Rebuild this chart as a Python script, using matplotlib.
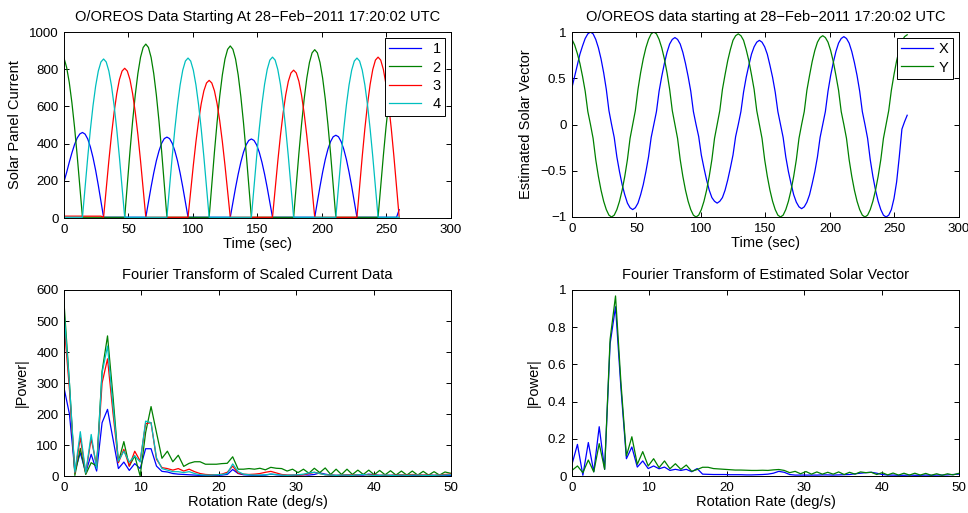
#!/usr/local/bin/python3

import numpy as np
import matplotlib
matplotlib.use('Agg')
import matplotlib.pyplot as plt
from matplotlib.ticker import FormatStrFormatter, FuncFormatter

# Sample spacing of the telemetry (s) and FFT bin spacing (deg/s)
dt = 2.046
bin_width = 360 / 512

# Solar panel currents, one value per sample
panel_1 = [195, 245, 300, 350, 395, 430, 452, 460,
           451, 425, 382, 325, 256, 176, 90, 4,
           4, 4, 4, 4, 4, 4, 4, 4, 4, 4, 4, 4, 4, 4, 4,
           4, 85, 167, 242, 308, 361, 402, 427, 435,
           427, 402, 361, 308, 242, 167, 85, 4,
           4, 4, 4, 4, 4, 4, 4, 4, 4, 4, 4, 4, 4, 4, 4,
           4, 83, 163, 236, 300, 353, 393, 417, 425,
           417, 393, 353, 300, 236, 163, 83, 4,
           4, 4, 4, 4, 4, 4, 4, 4, 4, 4, 4, 4, 4, 4, 4,
           4, 87, 170, 247, 315, 370, 411, 437, 445,
           437, 411, 370, 315, 247, 170, 87, 4,
           4, 4, 4, 4, 4, 4, 4, 4, 4, 4, 4, 4, 4, 4, 4,
           45]
panel_2 = [860, 810, 729, 620, 488, 336, 171, 4,
           4, 4, 4, 4, 4, 4, 4, 4, 4, 4, 4, 4, 4, 4, 4,
           4, 182, 358, 520, 661, 777, 864, 917, 935,
           917, 864, 777, 661, 520, 358, 182, 4,
           4, 4, 4, 4, 4, 4, 4, 4, 4, 4, 4, 4, 4, 4, 4,
           4, 180, 354, 514, 654, 769, 855, 907, 925,
           907, 855, 769, 654, 514, 354, 180, 4,
           4, 4, 4, 4, 4, 4, 4, 4, 4, 4, 4, 4, 4, 4, 4,
           4, 176, 347, 503, 640, 752, 836, 888, 905,
           888, 836, 752, 640, 503, 347, 176, 4,
           4, 4, 4, 4, 4, 4, 4, 4, 4, 4, 4, 4, 4, 4, 4,
           4, 171, 335, 487, 619, 727, 809, 858, 870]
panel_3 = [10, 10, 10, 10, 10, 10, 10, 10, 10, 10, 10, 10, 10, 10, 10,
           4, 157, 308, 448, 569, 669, 744, 790, 805,
           790, 744, 669, 569, 448, 308, 157, 4,
           4, 4, 4, 4, 4, 4, 4, 4, 4, 4, 4, 4, 4, 4, 4,
           4, 144, 283, 411, 523, 615, 684, 726, 740,
           726, 684, 615, 523, 411, 283, 144, 4,
           4, 4, 4, 4, 4, 4, 4, 4, 4, 4, 4, 4, 4, 4, 4,
           4, 155, 304, 442, 562, 661, 735, 780, 795,
           780, 735, 661, 562, 442, 304, 155, 4,
           4, 4, 4, 4, 4, 4, 4, 4, 4, 4, 4, 4, 4, 4, 4,
           4, 169, 331, 481, 612, 719, 799, 849, 865,
           849, 799, 719, 612, 481, 331, 169, 4]
panel_4 = [4, 4, 4, 4, 4, 4, 4,
           4, 167, 327, 475, 604, 710, 790, 839, 855,
           839, 790, 710, 604, 475, 327, 167, 4,
           4, 4, 4, 4, 4, 4, 4, 4, 4, 4, 4, 4, 4, 4, 4,
           4, 168, 329, 478, 608, 715, 795, 844, 860,
           844, 795, 715, 608, 478, 329, 168, 4,
           4, 4, 4, 4, 4, 4, 4, 4, 4, 4, 4, 4, 4, 4, 4,
           4, 169, 331, 481, 612, 719, 799, 849, 865,
           849, 799, 719, 612, 481, 331, 169, 4,
           4, 4, 4, 4, 4, 4, 4, 4, 4, 4, 4, 4, 4, 4, 4,
           4, 168, 329, 478, 608, 715, 795, 844, 860,
           844, 795, 715, 608, 478, 329, 168, 4,
           4, 4, 4, 4, 4, 4, 4, 4]

# Estimated solar vector components
sun_x = [0.40, 0.52, 0.64, 0.76, 0.85, 0.93, 0.98, 1.00,
         0.98, 0.92, 0.83, 0.71, 0.56, 0.38, 0.15, 0.00,
         -0.14, -0.35, -0.51, -0.65, -0.76, -0.85, -0.90, -0.92,
         -0.90, -0.85, -0.76, -0.65, -0.51, -0.35, -0.14, 0.00,
         0.14, 0.36, 0.52, 0.66, 0.78, 0.87, 0.92, 0.94,
         0.92, 0.87, 0.78, 0.66, 0.52, 0.36, 0.14, 0.00,
         -0.13, -0.33, -0.47, -0.60, -0.71, -0.79, -0.83, -0.85,
         -0.83, -0.79, -0.71, -0.60, -0.47, -0.33, -0.13, 0.00,
         0.14, 0.35, 0.51, 0.64, 0.76, 0.84, 0.89, 0.91,
         0.89, 0.84, 0.76, 0.64, 0.51, 0.35, 0.14, 0.00,
         -0.14, -0.35, -0.51, -0.64, -0.76, -0.84, -0.89, -0.91,
         -0.89, -0.84, -0.76, -0.64, -0.51, -0.35, -0.14, 0.00,
         0.14, 0.36, 0.53, 0.67, 0.79, 0.88, 0.93, 0.95,
         0.93, 0.88, 0.79, 0.67, 0.53, 0.36, 0.14, 0.00,
         -0.15, -0.38, -0.56, -0.71, -0.83, -0.92, -0.98, -1.00,
         -0.98, -0.92, -0.80, -0.62, -0.35, -0.05, 0.03, 0.10]
sun_y = [0.92, 0.86, 0.77, 0.66, 0.52, 0.36, 0.14, 0.00,
         -0.15, -0.38, -0.56, -0.71, -0.83, -0.92, -0.98, -1.00,
         -0.98, -0.92, -0.83, -0.71, -0.56, -0.38, -0.15, 0.00,
         0.15, 0.38, 0.56, 0.71, 0.83, 0.92, 0.98, 1.00,
         0.98, 0.92, 0.83, 0.71, 0.56, 0.38, 0.15, 0.00,
         -0.15, -0.38, -0.56, -0.71, -0.83, -0.92, -0.98, -1.00,
         -0.98, -0.92, -0.83, -0.71, -0.56, -0.38, -0.15, 0.00,
         0.15, 0.38, 0.54, 0.69, 0.81, 0.91, 0.96, 0.98,
         0.96, 0.91, 0.81, 0.69, 0.54, 0.38, 0.15, 0.00,
         -0.15, -0.38, -0.56, -0.71, -0.83, -0.92, -0.98, -1.00,
         -0.98, -0.92, -0.83, -0.71, -0.56, -0.38, -0.15, 0.00,
         0.14, 0.37, 0.53, 0.68, 0.80, 0.89, 0.94, 0.96,
         0.94, 0.89, 0.80, 0.68, 0.53, 0.37, 0.14, 0.00,
         -0.15, -0.38, -0.56, -0.71, -0.83, -0.92, -0.98, -1.00,
         -0.98, -0.92, -0.83, -0.71, -0.56, -0.38, -0.15, 0.00,
         0.15, 0.37, 0.54, 0.69, 0.81, 0.90, 0.95, 0.97]

# Spectrum magnitude of each panel current
power_1 = [285, 200, 15, 75, 11, 70, 16, 172, 215, 120, 24, 45, 18, 40, 24, 88,
           88, 32, 15, 13, 8, 6, 5,
           4, 3, 2, 2, 2, 2, 3, 5, 21,
           8, 4, 3, 2, 2, 3, 6, 4, 3,
           2, 2, 3, 4, 3, 5, 10, 6, 3,
           2, 2, 3, 2, 3, 3, 6, 4, 2,
           2, 2, 3, 2, 2, 2, 2, 2, 3,
           2, 2, 2, 2, 2]
power_2 = [561, 300, 2, 89, 5, 43, 32, 338, 452, 258, 45, 111, 32, 65, 0, 140,
           224, 140, 57, 80, 46, 67, 31,
           41, 46, 46, 38, 38, 38, 40, 41, 62,
           22, 22, 24, 22, 25, 20, 28, 25, 24,
           16, 22, 11, 22, 9, 25, 11, 26, 5,
           22, 5, 22, 5, 19, 5, 19, 4, 18,
           4, 17, 3, 16, 3, 16, 3, 15, 3,
           14, 3, 13, 9, 10]
power_3 = [495, 280, 10, 124, 10, 120, 32, 300, 378, 204, 43, 86, 32, 80, 48, 169,
           172, 54, 27, 24, 19, 24, 16,
           22, 14, 8, 5, 4, 4, 6, 12, 32,
           9, 6, 5, 6, 8, 12, 15, 10, 5,
           3, 3, 3, 4, 8, 12, 8, 4, 3,
           2, 3, 4, 3, 4, 5, 4, 3, 2,
           3, 2, 3, 4, 3, 5, 4, 3, 3,
           2, 4, 5, 6, 7]
power_4 = [530, 300, 12, 143, 10, 134, 24, 333, 419, 226, 48, 80, 45, 65, 45, 177,
           172, 59, 24, 19, 14, 14, 11,
           14, 8, 4, 3, 3, 4, 5, 8, 39,
           14, 6, 4, 3, 3, 4, 6, 5, 3,
           2, 3, 4, 6, 10, 12, 8, 4, 3,
           2, 3, 3, 2, 4, 5, 3, 2, 2,
           3, 2, 2, 3, 2, 3, 3, 2, 2,
           2, 3, 3, 4, 4]

# Spectrum magnitude of the solar vector
power_x = [0.063, 0.17, 0.004, 0.18, 0.023, 0.265, 0.036, 0.71, 0.91, 0.47,
           0.093, 0.156, 0.048, 0.081, 0.04, 0.054, 0.039, 0.048, 0.03, 0.036,
           0.03, 0.036, 0.023, 0.04,
           0.01, 0.009, 0.008, 0.008, 0.008, 0.007, 0.007, 0.007, 0.006, 0.006,
           0.007, 0.008, 0.01, 0.015, 0.025, 0.02, 0.008, 0.005, 0.005, 0.005,
           0.005, 0.005, 0.006, 0.006, 0.005, 0.006, 0.007, 0.008, 0.012, 0.015,
           0.018, 0.02, 0.015, 0.008, 0.005, 0.005, 0.004, 0.004, 0.005, 0.004,
           0.004, 0.005, 0.004, 0.005, 0.005, 0.006, 0.008, 0.01, 0.01]
power_y = [0.03, 0.054, 0.018, 0.086, 0.022, 0.174, 0.036, 0.735, 0.968, 0.5,
           0.108, 0.211, 0.063, 0.131, 0.054, 0.093, 0.045, 0.081, 0.039, 0.066,
           0.036, 0.059, 0.025, 0.035,
           0.047, 0.047, 0.04, 0.038, 0.036, 0.034, 0.032, 0.032, 0.031, 0.03,
           0.03, 0.031, 0.03, 0.033, 0.035, 0.03, 0.018, 0.025, 0.012, 0.024,
           0.01, 0.022, 0.01, 0.02, 0.01, 0.022, 0.008, 0.02, 0.01, 0.022,
           0.018, 0.02, 0.008, 0.018, 0.006, 0.016, 0.005, 0.015, 0.005, 0.015,
           0.005, 0.014, 0.004, 0.012, 0.004, 0.012, 0.006, 0.014, 0.015]

panel_labels = ['1', '2', '3', '4']
vector_labels = ['X', 'Y']

BLUE = (0, 0, 1)
GREEN = (0, 0.5, 0)
RED = (1, 0, 0)
CYAN = (0, 0.75, 0.75)

plt.rcParams['font.family'] = ['Liberation Sans', 'DejaVu Sans']
plt.rcParams['font.size'] = 10.5
plt.rcParams['axes.linewidth'] = 0.7


def minus(s):
    return s.replace('-', '\u2212')


def style_axes(ax):
    ax.tick_params(direction='in', top=True, right=True, length=3.5,
                   width=0.7, pad=4, labelsize=9.6)
    ax.xaxis.labelpad = 1
    ax.yaxis.labelpad = 5


t = np.arange(len(panel_1)) * dt
rate = np.arange(len(power_1)) * bin_width

fig = plt.figure(figsize=(9.68, 5.13), dpi=100)
fig.set_facecolor('white')

# Panel currents
ax = fig.add_axes([0.0661, 0.5750, 0.3998, 0.3626])
for series, color, label in zip([panel_1, panel_2, panel_3, panel_4],
                                [BLUE, GREEN, RED, CYAN], panel_labels):
    ax.plot(t, series, color=color, lw=0.9, label=label)
ax.set_xlim(0, 300)
ax.set_ylim(0, 1000)
ax.set_xticks(np.arange(0, 301, 50))
ax.set_yticks(np.arange(0, 1001, 200))
ax.set_title(minus('O/OREOS Data Starting At 28-Feb-2011 17:20:02 UTC'),
             fontsize=10.5, pad=8)
ax.set_xlabel('Time (sec)')
ax.set_ylabel('Solar Panel Current')
style_axes(ax)
leg = ax.legend(loc='upper right', fancybox=False, edgecolor='black',
                framealpha=1, handlelength=2.2, labelspacing=0.3,
                borderaxespad=0.4, borderpad=0.3, handletextpad=0.8)
leg.get_frame().set_linewidth(0.7)

# Solar vector
ax = fig.add_axes([0.5909, 0.5770, 0.3998, 0.3606])
ax.plot(t, sun_x, color=BLUE, lw=0.9, label=vector_labels[0])
ax.plot(t, sun_y, color=GREEN, lw=0.9, label=vector_labels[1])
ax.set_xlim(0, 300)
ax.set_ylim(-1, 1)
ax.set_xticks(np.arange(0, 301, 50))
ax.set_yticks([-1, -0.5, 0, 0.5, 1])
ax.yaxis.set_major_formatter(FuncFormatter(lambda v, p: minus('%g' % v)))
ax.set_title(minus('O/OREOS data starting at 28-Feb-2011 17:20:02 UTC'),
             fontsize=10.5, pad=8)
ax.set_xlabel('Time (sec)')
ax.set_ylabel('Estimated Solar Vector')
style_axes(ax)
leg = ax.legend(loc='upper right', fancybox=False, edgecolor='black',
                framealpha=1, handlelength=2.2, labelspacing=0.3,
                borderaxespad=0.4, borderpad=0.3, handletextpad=0.4)
leg.get_frame().set_linewidth(0.7)

# Spectrum of currents
ax = fig.add_axes([0.0661, 0.0721, 0.3998, 0.3626])
for series, color in zip([power_1, power_2, power_3, power_4],
                         [BLUE, GREEN, RED, CYAN]):
    ax.plot(rate, series, color=color, lw=0.9)
ax.set_xlim(0, 50)
ax.set_ylim(0, 600)
ax.set_xticks(np.arange(0, 51, 10))
ax.set_yticks(np.arange(0, 601, 100))
ax.set_title('Fourier Transform of Scaled Current Data', fontsize=10.5, pad=8)
ax.set_xlabel('Rotation Rate (deg/s)')
ax.set_ylabel('|Power|')
style_axes(ax)

# Spectrum of solar vector
ax = fig.add_axes([0.5909, 0.0721, 0.3998, 0.3626])
ax.plot(rate, power_x, color=BLUE, lw=0.9)
ax.plot(rate, power_y, color=GREEN, lw=0.9)
ax.set_xlim(0, 50)
ax.set_ylim(0, 1)
ax.set_xticks(np.arange(0, 51, 10))
ax.set_yticks(np.arange(0, 1.01, 0.2))
ax.yaxis.set_major_formatter(FormatStrFormatter('%g'))
ax.set_title('Fourier Transform of Estimated Solar Vector', fontsize=10.5, pad=8)
ax.set_xlabel('Rotation Rate (deg/s)')
ax.set_ylabel('|Power|')
style_axes(ax)

fig.savefig('out.png', dpi=100)
